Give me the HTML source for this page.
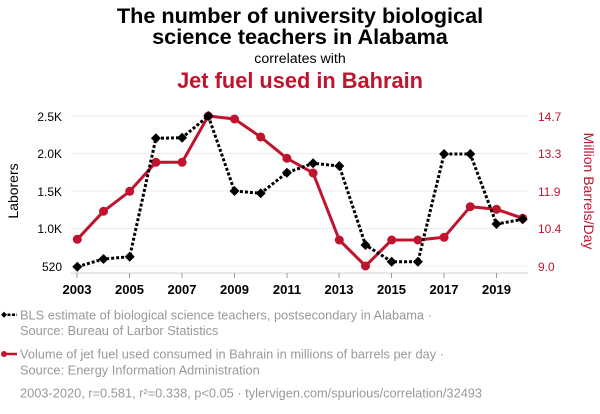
<!DOCTYPE html>
<html><head><meta charset="utf-8"><style>body{margin:0;background:#fff}svg{display:block;font-family:"Liberation Sans",sans-serif}</style></head><body>
<svg width="600" height="414" viewBox="0 0 600 414">
<text x="300" y="23" text-anchor="middle" font-size="21.7" font-weight="bold" fill="#000">The number of university biological</text>
<text x="300" y="44" text-anchor="middle" font-size="21.7" font-weight="bold" fill="#000">science teachers in Alabama</text>
<text x="300" y="63" text-anchor="middle" font-size="14.2" fill="#000">correlates with</text>
<text x="300" y="88" text-anchor="middle" font-size="21.8" font-weight="bold" fill="#c0142e">Jet fuel used in Bahrain</text>
<g stroke="#eee" stroke-width="1">
<line x1="71" x2="528" y1="116" y2="116"/><line x1="71" x2="528" y1="153.5" y2="153.5"/><line x1="71" x2="528" y1="191" y2="191"/><line x1="71" x2="528" y1="228.5" y2="228.5"/><line x1="71" x2="528" y1="266" y2="266"/>
</g>
<line x1="71" x2="528" y1="273" y2="273" stroke="#ccc"/>
<g font-size="12" fill="#000" text-anchor="end">
<text x="62" y="121">2.5K</text><text x="62" y="158">2.0K</text><text x="62" y="196">1.5K</text><text x="62" y="233">1.0K</text><text x="62" y="271">520</text>
</g>
<g font-size="12" fill="#c0142e">
<text x="538" y="121">14.7</text><text x="538" y="158">13.3</text><text x="538" y="196">11.9</text><text x="538" y="233">10.4</text><text x="538" y="271">9.0</text>
</g>
<g font-size="13" font-weight="bold" fill="#000" text-anchor="middle">
<text x="77" y="294">2003</text><text x="129.5" y="294">2005</text><text x="182" y="294">2007</text><text x="234.5" y="294">2009</text><text x="287" y="294">2011</text><text x="339" y="294">2013</text><text x="391.5" y="294">2015</text><text x="444" y="294">2017</text><text x="496.5" y="294">2019</text>
</g>
<g stroke="#999"><line x1="77" x2="77" y1="273" y2="278"/><line x1="129.5" x2="129.5" y1="273" y2="278"/><line x1="182" x2="182" y1="273" y2="278"/><line x1="234.5" x2="234.5" y1="273" y2="278"/><line x1="287" x2="287" y1="273" y2="278"/><line x1="339" x2="339" y1="273" y2="278"/><line x1="391.5" x2="391.5" y1="273" y2="278"/><line x1="444" x2="444" y1="273" y2="278"/><line x1="496.5" x2="496.5" y1="273" y2="278"/></g>
<text transform="translate(18,191) rotate(-90)" text-anchor="middle" font-size="14" fill="#000">Laborers</text>
<text transform="translate(584,191) rotate(90)" text-anchor="middle" font-size="14" fill="#c0142e">Million Barrels/Day</text>
<polyline fill="none" stroke="#c0142e" stroke-width="3" stroke-linejoin="round" points="77.3,239.3 103.5,211.3 129.7,191.3 155.9,162.3 182.1,162.3 208.3,116 234.5,119 260.7,137 286.9,158.3 313.1,173 339.3,240 365.5,266 391.7,240 417.9,240 444.1,237.3 470.3,206.7 496.5,209.3 522.7,218.3"/>
<g fill="#c0142e"><circle cx="77.3" cy="239.3" r="4.5"/><circle cx="103.5" cy="211.3" r="4.5"/><circle cx="129.7" cy="191.3" r="4.5"/><circle cx="155.9" cy="162.3" r="4.5"/><circle cx="182.1" cy="162.3" r="4.5"/><circle cx="208.3" cy="116" r="4.5"/><circle cx="234.5" cy="119" r="4.5"/><circle cx="260.7" cy="137" r="4.5"/><circle cx="286.9" cy="158.3" r="4.5"/><circle cx="313.1" cy="173" r="4.5"/><circle cx="339.3" cy="240" r="4.5"/><circle cx="365.5" cy="266" r="4.5"/><circle cx="391.7" cy="240" r="4.5"/><circle cx="417.9" cy="240" r="4.5"/><circle cx="444.1" cy="237.3" r="4.5"/><circle cx="470.3" cy="206.7" r="4.5"/><circle cx="496.5" cy="209.3" r="4.5"/><circle cx="522.7" cy="218.3" r="4.5"/></g>
<polyline fill="none" stroke="#000" stroke-width="3" stroke-dasharray="3,2" points="77.3,266.7 103.5,259 129.7,256.7 155.9,138.3 182.1,137.7 208.3,116 234.5,191 260.7,193.3 286.9,172.7 313.1,163.3 339.3,166 365.5,245 391.7,261.7 417.9,261.7 444.1,154 470.3,154 496.5,224 522.7,219.3"/>
<g fill="#000">
<path d="M77.3,261.7l5,5l-5,5l-5,-5z"/><path d="M103.5,254l5,5l-5,5l-5,-5z"/><path d="M129.7,251.7l5,5l-5,5l-5,-5z"/><path d="M155.9,133.3l5,5l-5,5l-5,-5z"/><path d="M182.1,132.7l5,5l-5,5l-5,-5z"/><path d="M208.3,111l5,5l-5,5l-5,-5z"/><path d="M234.5,186l5,5l-5,5l-5,-5z"/><path d="M260.7,188.3l5,5l-5,5l-5,-5z"/><path d="M286.9,167.7l5,5l-5,5l-5,-5z"/><path d="M313.1,158.3l5,5l-5,5l-5,-5z"/><path d="M339.3,161l5,5l-5,5l-5,-5z"/><path d="M365.5,240l5,5l-5,5l-5,-5z"/><path d="M391.7,256.7l5,5l-5,5l-5,-5z"/><path d="M417.9,256.7l5,5l-5,5l-5,-5z"/><path d="M444.1,149l5,5l-5,5l-5,-5z"/><path d="M470.3,149l5,5l-5,5l-5,-5z"/><path d="M496.5,219l5,5l-5,5l-5,-5z"/><path d="M522.7,214.3l5,5l-5,5l-5,-5z"/>
</g>
<line x1="3" x2="17" y1="314.7" y2="314.7" stroke="#000" stroke-width="2.5" stroke-dasharray="3,1.5"/>
<path d="M4,311.7l3,3l-3,3l-3,-3z" fill="#000"/>
<line x1="3" x2="17" y1="354" y2="354" stroke="#c0142e" stroke-width="2.5"/>
<circle cx="4" cy="354" r="3" fill="#c0142e"/>
<g font-size="12.8" fill="#999">
<text x="20" y="319.5">BLS estimate of biological science teachers, postsecondary in Alabama ·</text>
<text x="20" y="335">Source: Bureau of Larbor Statistics</text>
<text x="20" y="358.5">Volume of jet fuel used consumed in Bahrain in millions of barrels per day ·</text>
<text x="20" y="374.5">Source: Energy Information Administration</text>
<text x="20" y="397.5">2003-2020, r=0.581, r²=0.338, p&lt;0.05 · tylervigen.com/spurious/correlation/32493</text>
</g>
</svg>
</body></html>
